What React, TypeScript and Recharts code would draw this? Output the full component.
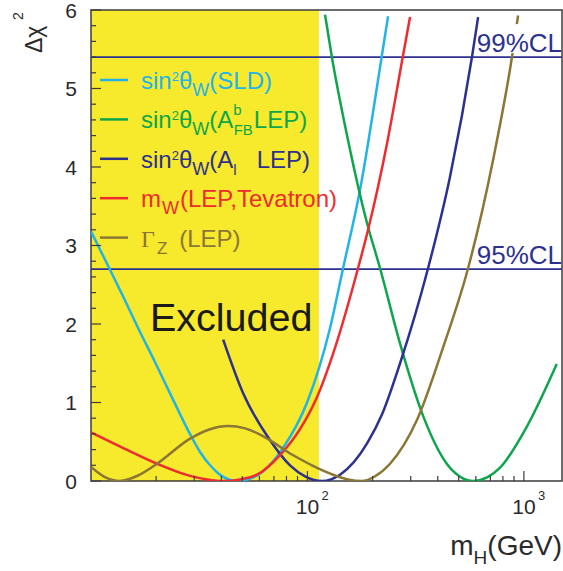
import React from 'react';
import { LineChart, Line, XAxis, YAxis, ReferenceArea, ReferenceLine } from 'recharts';

// ---- data (m_H in GeV, delta chi^2) ----
const sldMass = [10, 12, 13.8, 16.5, 19.8, 23.9, 28.4, 31.9, 35.5, 39.5, 43, 47.3, 54.3, 62.3, 77.1, 99.6, 127.2, 146.1, 175, 220.5, 235.8];
const sldChi2 = [3.18, 2.74, 2.4, 1.95, 1.51, 1.04, 0.62, 0.37, 0.2, 0.078, 0.022, 0, 0.03, 0.12, 0.42, 1.0, 1.95, 2.71, 3.71, 5.41, 5.92];

const afbMass = [120.6, 129.5, 151.9, 187.9, 216.5, 267.9, 343.3, 440.3, 507.4, 584.4, 676, 776.3, 1031, 1419];
const afbChi2 = [5.94, 5.41, 4.42, 3.3, 2.71, 1.75, 0.82, 0.22, 0.055, 0, 0.045, 0.17, 0.69, 1.49];

const alMass = [40.8, 50.4, 67.2, 83.1, 97.5, 116.8, 141.5, 188.6, 221.2, 267.9, 360.8, 456, 576.4, 614.4];
const alChi2 = [1.8, 1.12, 0.52, 0.2, 0.06, 0, 0.08, 0.48, 0.85, 1.5, 2.71, 3.88, 5.41, 5.91];

const mwMass = [10, 14.1, 20.2, 28.7, 34.4, 40.8, 48.8, 58.5, 74.7, 92.4, 110.8, 131.3, 171.3, 190.6, 233.2, 273.6, 297.9];
const mwChi2 = [0.62, 0.42, 0.22, 0.065, 0.02, 0, 0.02, 0.08, 0.33, 0.66, 1.07, 1.62, 2.71, 3.2, 4.3, 5.35, 5.91];

const gzMass = [10, 11.6, 13.6, 16.5, 20.2, 28.7, 35.5, 43, 51.5, 58.5, 70.8, 83.1, 92.4, 108.4, 131.3, 154, 178.8, 205.3, 240.8, 321, 423.1, 552.3, 720.6, 882.1, 940.2];
const gzChi2 = [0.18, 0.05, 0, 0.07, 0.22, 0.54, 0.66, 0.7, 0.67, 0.61, 0.48, 0.35, 0.28, 0.18, 0.08, 0.02, 0, 0.06, 0.22, 0.78, 1.7, 2.71, 4.09, 5.41, 5.93];

const xTicks = [20, 30, 40, 50, 60, 70, 80, 90, 100, 200, 300, 400, 500, 600, 700, 800, 900, 1000];
const xLabelExp: Record<number, string> = { 100: '2', 1000: '3' };
const yLabels = [0, 1, 2, 3, 4, 5, 6];
const yTicks = Array.from({ length: 31 }, (_, i) => Math.round(i * 2) / 10);

const excludedLimit = 113;
const clLevels = [
  { value: 5.4, label: '99%CL' },
  { value: 2.7, label: '95%CL' },
];

// ---- layout / styles ----
const W = 563;
const H = 571;
const M = { top: 10, right: 1, bottom: 0, left: 0 };
const Y_AXIS_W = 91;
const X_AXIS_H = 90;
const Y_MAX = 6;
const plotTop = M.top;
const plotBottom = H - M.bottom - X_AXIS_H;
const plotRight = W - M.right;
const yPix = (v: number) => plotTop + ((Y_MAX - v) / Y_MAX) * (plotBottom - plotTop);

const FONT = '"Liberation Sans", Arial, Helvetica, sans-serif';
const YELLOW = '#f7e92b';
const CYAN = '#22b4e8';
const GREEN = '#0ea64c';
const NAVY = '#2c3190';
const RED = '#ee2b2f';
const BROWN = '#8b7636';
const FRAME = '#3c3c3c';

const toData = (ms: number[], ds: number[]) => ms.map((m, i) => ({ m, d: ds[i] }));

const series = [
  { key: 'sld', color: CYAN, data: toData(sldMass, sldChi2) },
  { key: 'afb', color: GREEN, data: toData(afbMass, afbChi2) },
  { key: 'al', color: NAVY, data: toData(alMass, alChi2) },
  { key: 'mw', color: RED, data: toData(mwMass, mwChi2) },
  { key: 'gz', color: BROWN, data: toData(gzMass, gzChi2) },
];

const XTick = (props: any) => {
  const { x, y, payload } = props;
  const v = payload.value;
  const exp = xLabelExp[v];
  const len = exp ? 10 : 5;
  return (
    <g>
      <line x1={x} x2={x} y1={y} y2={y - len} stroke={FRAME} strokeWidth={1.2} />
      {exp && (
        <g fontFamily={FONT} fill="#2a2a2a">
          <text x={x} y={y + 33} textAnchor="middle" fontSize={21}>10</text>
          <text x={x + 14} y={y + 19} fontSize={13}>{exp}</text>
        </g>
      )}
    </g>
  );
};

const YTick = (props: any) => {
  const { x, y, payload } = props;
  const v = payload.value;
  const major = Math.abs(v - Math.round(v)) < 1e-6;
  const showLabel = major && yLabels.includes(Math.round(v));
  return (
    <g>
      <line x1={x} x2={x + (major ? 10 : 5)} y1={y} y2={y} stroke={FRAME} strokeWidth={1.2} />
      {showLabel && (
        <text x={x - 14} y={y + 7.5} textAnchor="end" fontSize={21} fontFamily={FONT} fill="#2a2a2a">
          {Math.round(v)}
        </text>
      )}
    </g>
  );
};

const legendRows = [
  {
    color: CYAN,
    content: (
      <>
        sin<tspan fontSize={13} dy={-8}>2</tspan>
        <tspan fontSize={24} dy={8}>θ</tspan>
        <tspan fontSize={18} dy={7}>W</tspan>
        <tspan fontSize={24} dy={-7}>(SLD)</tspan>
      </>
    ),
  },
  {
    color: GREEN,
    content: (
      <>
        sin<tspan fontSize={13} dy={-8}>2</tspan>
        <tspan fontSize={24} dy={8}>θ</tspan>
        <tspan fontSize={18} dy={7}>W</tspan>
        <tspan fontSize={24} dy={-7}>(A</tspan>
        <tspan fontSize={15} dy={-13}>b</tspan>
        <tspan fontSize={15} dx={-8} dy={20}>FB</tspan>
        <tspan fontSize={24} dy={-7} dx={1}>LEP)</tspan>
      </>
    ),
  },
  {
    color: NAVY,
    content: (
      <>
        sin<tspan fontSize={13} dy={-8}>2</tspan>
        <tspan fontSize={24} dy={8}>θ</tspan>
        <tspan fontSize={18} dy={7}>W</tspan>
        <tspan fontSize={24} dy={-7}>(A</tspan>
        <tspan fontSize={15} dy={7}>l</tspan>
        <tspan fontSize={24} dy={-7} dx={20}>LEP)</tspan>
      </>
    ),
  },
  {
    color: RED,
    content: (
      <>
        m<tspan fontSize={18} dy={7} dx={1}>W</tspan>
        <tspan fontSize={24} dy={-7} dx={1}>(LEP,Tevatron)</tspan>
      </>
    ),
  },
  {
    color: BROWN,
    content: (
      <>
        <tspan fontFamily='"Liberation Serif", "Times New Roman", serif'>Γ</tspan>
        <tspan fontSize={17} dy={7} dx={2}>Z</tspan>
        <tspan fontSize={24} dy={-7} dx={12}>(LEP)</tspan>
      </>
    ),
  },
];

export default function App() {
  return (
    <div style={{ position: 'absolute', left: 0, top: 0, width: W, height: H, background: '#fff' }}>
      <LineChart width={W} height={H} margin={M}>
        <XAxis
          dataKey="m"
          type="number"
          scale="log"
          domain={[10, 1500]}
          allowDataOverflow
          ticks={xTicks}
          interval={0}
          tickSize={0}
          tickMargin={0}
          axisLine={false}
          tickLine={false}
          tick={<XTick />}
          height={X_AXIS_H}
        />
        <YAxis
          type="number"
          domain={[0, Y_MAX]}
          allowDataOverflow
          ticks={yTicks}
          interval={0}
          tickSize={0}
          tickMargin={0}
          axisLine={false}
          tickLine={false}
          tick={<YTick />}
          width={Y_AXIS_W}
        />
        <ReferenceArea x1={10} x2={excludedLimit} y1={0} y2={Y_MAX} fill={YELLOW} fillOpacity={1} stroke="none" />
        {clLevels.map((c) => (
          <ReferenceLine key={c.label} y={c.value} stroke={NAVY} strokeWidth={1.8} />
        ))}
        {series.map((s) => (
          <Line
            key={s.key}
            data={s.data}
            dataKey="d"
            type="monotone"
            stroke={s.color}
            strokeWidth={2.5}
            dot={false}
            activeDot={false}
            isAnimationActive={false}
          />
        ))}
        <ReferenceArea x1={10} x2={1500} y1={0} y2={Y_MAX} fill="none" stroke={FRAME} strokeWidth={1.5} />
      </LineChart>
      <svg width={W} height={H} style={{ position: 'absolute', left: 0, top: 0, pointerEvents: 'none' }}>
        <g fontFamily={FONT}>
          {clLevels.map((c) => {
            const ly = yPix(c.value);
            return (
              <g key={c.label}>
                <rect x={plotRight - 83} y={ly - 33} width={82} height={29} fill="#fff" />
                <text x={plotRight} y={ly - 5} textAnchor="end" fontSize={26} fill={NAVY}>
                  {c.label}
                </text>
              </g>
            );
          })}
          {legendRows.map((r, i) => {
            const ly = 80 + i * 39.4;
            return (
              <g key={i}>
                <line x1={100} x2={128} y1={ly} y2={ly} stroke={r.color} strokeWidth={2.5} />
                <text x={141} y={ly + 9} fontSize={24} fill={r.color}>
                  {r.content}
                </text>
              </g>
            );
          })}
          <text x={150} y={331} fontSize={39.5} fill="#1a1a1a">Excluded</text>
          <text transform="translate(42,53) rotate(-90)" fontSize={23} fill="#2a2a2a">Δχ</text>
          <text transform="translate(23,20) rotate(-90)" fontSize={14} fill="#2a2a2a">2</text>
          <text x={562} y={555} textAnchor="end" fontSize={28} fill="#2a2a2a">
            m<tspan fontSize={19} dy={9}>H</tspan>
            <tspan fontSize={28} dy={-9}>(GeV)</tspan>
          </text>
        </g>
      </svg>
    </div>
  );
}
